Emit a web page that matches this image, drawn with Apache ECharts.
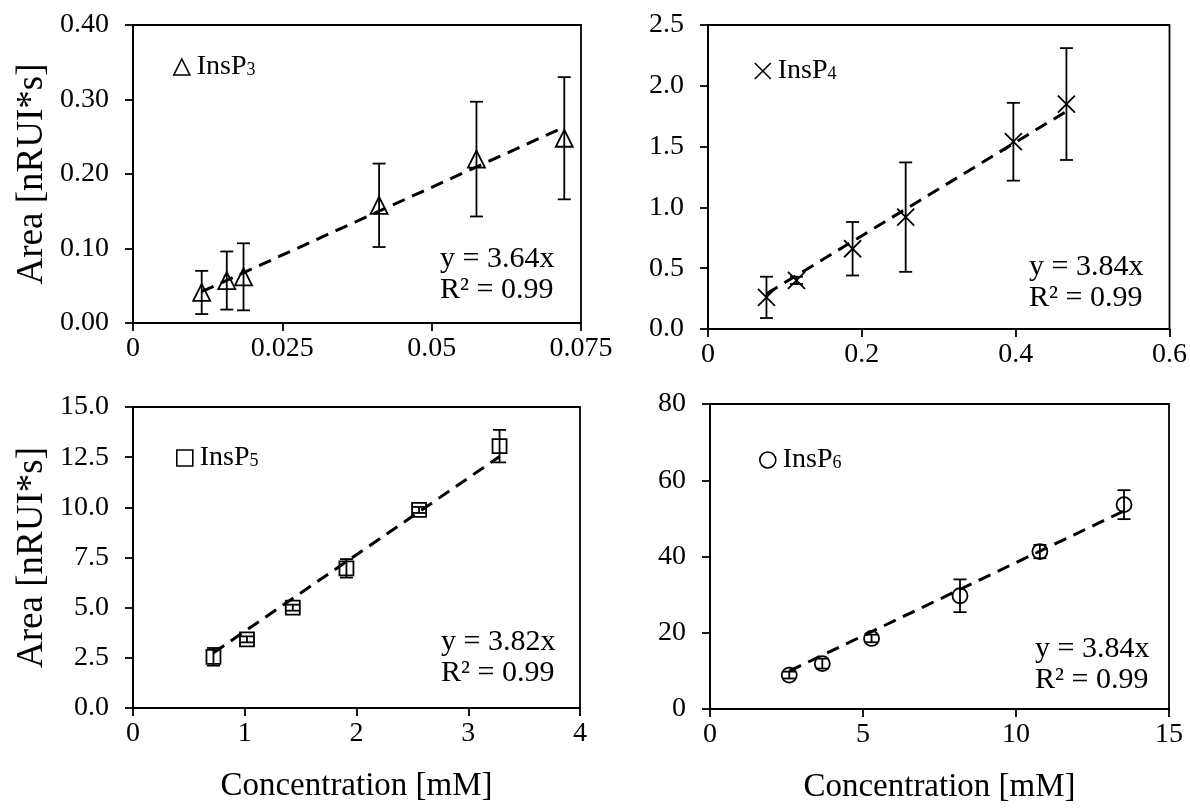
<!DOCTYPE html>
<html><head><meta charset="utf-8">
<script src="https://cdn.jsdelivr.net/npm/echarts@6/dist/echarts.min.js"></script>
<style>html,body{margin:0;padding:0;background:#fff}#c{width:1190px;height:808px}</style>
</head><body><div id="c"></div>
<script>
// ---------- DATA ----------
const insp3X = [0.0115, 0.0157, 0.0185, 0.0412, 0.0575, 0.0722];
const insp3Y = [0.041, 0.057, 0.062, 0.158, 0.220, 0.248];
const insp3Err = [0.029, 0.039, 0.045, 0.056, 0.077, 0.082];
const insp3Trend = [[0.0115, 0.042], [0.0722, 0.263]];

const insp4X = [0.076, 0.115, 0.188, 0.257, 0.397, 0.466];
const insp4Y = [0.26, 0.40, 0.66, 0.92, 1.54, 1.85];
const insp4Err = [0.17, 0.03, 0.22, 0.45, 0.32, 0.46];
const insp4Trend = [[0.076, 0.29], [0.466, 1.79]];

const insp5X = [0.72, 1.02, 1.43, 1.91, 2.56, 3.28];
const insp5Y = [2.55, 3.42, 5.0, 6.96, 9.87, 13.05];
const insp5Err = [0.44, 0.15, 0.15, 0.46, 0.15, 0.81];
const insp5Trend = [[0.72, 2.75], [3.28, 12.53]];

const insp6X = [2.59, 3.67, 5.28, 8.17, 10.78, 13.53];
const insp6Y = [8.9, 11.9, 18.5, 29.7, 41.3, 53.6];
const insp6Err = [0.9, 1.3, 1.0, 4.3, 1.75, 3.8];
const insp6Trend = [[2.59, 9.95], [13.53, 51.96]];

const seriesNames = ['InsP3', 'InsP4', 'InsP5', 'InsP6'];
const equations = ['y = 3.64x', 'y = 3.84x', 'y = 3.82x', 'y = 3.84x'];
const r2Labels = ['R² = 0.99', 'R² = 0.99', 'R² = 0.99', 'R² = 0.99'];

const x3Ticks = [0, 0.025, 0.05, 0.075];  const x3Labels = ['0', '0.025', '0.05', '0.075'];
const y3Ticks = [0, 0.1, 0.2, 0.3, 0.4];  const y3Labels = ['0.00', '0.10', '0.20', '0.30', '0.40'];
const x4Ticks = [0, 0.2, 0.4, 0.6];       const x4Labels = ['0', '0.2', '0.4', '0.6'];
const y4Ticks = [0, 0.5, 1, 1.5, 2, 2.5]; const y4Labels = ['0.0', '0.5', '1.0', '1.5', '2.0', '2.5'];
const x5Ticks = [0, 1, 2, 3, 4];          const x5Labels = ['0', '1', '2', '3', '4'];
const y5Ticks = [0, 2.5, 5, 7.5, 10, 12.5, 15]; const y5Labels = ['0.0', '2.5', '5.0', '7.5', '10.0', '12.5', '15.0'];
const x6Ticks = [0, 5, 10, 15];           const x6Labels = ['0', '5', '10', '15'];
const y6Ticks = [0, 20, 40, 60, 80];      const y6Labels = ['0', '20', '40', '60', '80'];

const xTitle = 'Concentration [mM]';
const yTitle = 'Area [nRUI*s]';

// ---------- LAYOUT / STYLE ----------
const FONT = '"Liberation Serif", "Times New Roman", serif';
const panels = [
  {x: insp3X, y: insp3Y, err: insp3Err, trend: insp3Trend, xt: x3Ticks, xl: x3Labels, yt: y3Ticks, yl: y3Labels,
   sym: 'triangle', size: 17, grid: {left: 133, top: 25, width: 448, height: 298},
   leg: {left: 173, top: 53}, eq: {left: 440, top: 244}, showY: true, showX: false},
  {x: insp4X, y: insp4Y, err: insp4Err, trend: insp4Trend, xt: x4Ticks, xl: x4Labels, yt: y4Ticks, yl: y4Labels,
   sym: 'path://M0,0L10,10M10,0L0,10', size: 17, grid: {left: 708, top: 25, width: 462, height: 304},
   leg: {left: 754, top: 57}, eq: {left: 1029, top: 252}, showY: false, showX: false},
  {x: insp5X, y: insp5Y, err: insp5Err, trend: insp5Trend, xt: x5Ticks, xl: x5Labels, yt: y5Ticks, yl: y5Labels,
   sym: 'rect', size: 14, grid: {left: 133, top: 407, width: 447, height: 301},
   leg: {left: 176, top: 444}, eq: {left: 441, top: 627}, showY: true, showX: true},
  {x: insp6X, y: insp6Y, err: insp6Err, trend: insp6Trend, xt: x6Ticks, xl: x6Labels, yt: y6Ticks, yl: y6Labels,
   sym: 'circle', size: 15, grid: {left: 710, top: 404, width: 459, height: 305},
   leg: {left: 759, top: 446}, eq: {left: 1035, top: 634}, showY: false, showX: true}
];

function makeAxis(gi, ticks, labels, isX, showName) {
  const step = ticks[1] - ticks[0];
  return {
    type: 'value', gridIndex: gi, min: ticks[0], max: ticks[ticks.length - 1], interval: step,
    axisLine: {show: true, onZero: false, lineStyle: {color: '#000', width: 1.8}},
    axisTick: {show: true, inside: false, length: 8, lineStyle: {color: '#000', width: 1.8}},
    splitLine: {show: false},
    axisLabel: {color: '#000', fontFamily: FONT, fontSize: 28, margin: isX ? 12 : 24,
      showMinLabel: true, showMaxLabel: true,
      formatter: v => { const k = Math.round((v - ticks[0]) / step); return labels[k] !== undefined ? labels[k] : ''; }},
    name: showName ? (isX ? xTitle : yTitle) : '',
    nameLocation: 'middle', nameGap: isX ? 62 : 82,
    nameTextStyle: {color: '#000', fontFamily: FONT, fontSize: isX ? 33 : 37}
  };
}

function renderErr(params, api) {
  const xv = api.value(0), lo = api.value(1), hi = api.value(2);
  const p1 = api.coord([xv, hi]), p2 = api.coord([xv, lo]);
  const w = 6.5, st = {stroke: '#000', lineWidth: 1.8};
  return {type: 'group', children: [
    {type: 'line', shape: {x1: p1[0], y1: p1[1], x2: p2[0], y2: p2[1]}, style: st},
    {type: 'line', shape: {x1: p1[0] - w, y1: p1[1], x2: p1[0] + w, y2: p1[1]}, style: st},
    {type: 'line', shape: {x1: p2[0] - w, y1: p2[1], x2: p2[0] + w, y2: p2[1]}, style: st}
  ]};
}

const grids = [], xAxes = [], yAxes = [], series = [], legends = [], graphics = [];
panels.forEach((p, i) => {
  grids.push(Object.assign({show: true, borderColor: '#000', borderWidth: 1.8, backgroundColor: 'transparent'}, p.grid));
  xAxes.push(makeAxis(i, p.xt, p.xl, true, p.showX));
  yAxes.push(makeAxis(i, p.yt, p.yl, false, p.showY));
  series.push({
    type: 'custom', xAxisIndex: i, yAxisIndex: i, silent: true, z: 3,
    data: p.x.map((xv, k) => [xv, p.y[k] - p.err[k], p.y[k] + p.err[k]]),
    encode: {x: 0, y: [1, 2]}, renderItem: renderErr
  });
  series.push({
    type: 'scatter', name: seriesNames[i], xAxisIndex: i, yAxisIndex: i, z: 4,
    symbol: p.sym, symbolSize: p.size,
    itemStyle: {color: 'rgba(0,0,0,0)', borderColor: '#000', borderWidth: 1.8, opacity: 1},
    data: p.x.map((xv, k) => [xv, p.y[k]])
  });
  series.push({
    type: 'line', xAxisIndex: i, yAxisIndex: i, z: 5, symbol: 'none', silent: true,
    lineStyle: {color: '#000', width: 3, type: [13, 8]},
    data: p.trend
  });
  legends.push({
    data: [{name: seriesNames[i], icon: p.sym}], left: p.leg.left, top: p.leg.top,
    itemWidth: 16, itemHeight: 16, selectedMode: false, padding: 0,
    itemStyle: {color: 'rgba(0,0,0,0)', borderColor: '#000', borderWidth: 1.6},
    formatter: n => '{a|InsP}{b|' + n.slice(4) + '}',
    textStyle: {color: '#000', fontFamily: FONT, fontSize: 28,
      rich: {a: {fontFamily: FONT, fontSize: 28, color: '#000', padding: [0, 0, 0, 2]},
             b: {fontFamily: FONT, fontSize: 18, color: '#000', verticalAlign: 'bottom', padding: [0, 0, 2, 0]}}}
  });
  graphics.push({
    type: 'text', left: p.eq.left, top: p.eq.top, silent: true,
    style: {text: equations[i] + '\n' + r2Labels[i], fill: '#000', fontFamily: FONT, fontSize: 30, lineHeight: 31}
  });
});

const chart = echarts.init(document.getElementById('c'), null, {renderer: 'canvas'});
chart.setOption({
  animation: false,
  backgroundColor: '#fff',
  grid: grids, xAxis: xAxes, yAxis: yAxes, series: series, legend: legends, graphic: graphics
});
</script></body></html>
